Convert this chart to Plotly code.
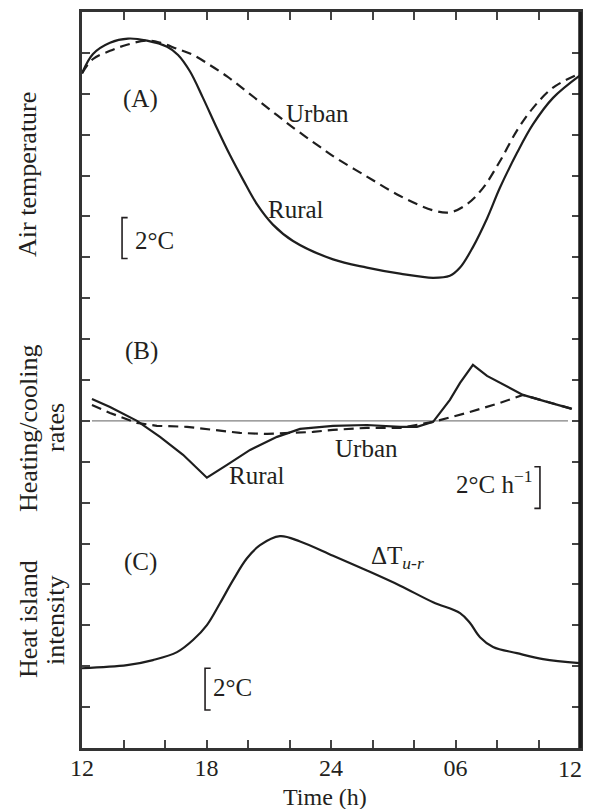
import plotly.graph_objects as go

# ---------------- data ----------------
# (A) air temperature, degC (schematic)
hours_a_rural = [12.0, 12.53, 13.35, 14.22, 15.13, 16.10, 16.63, 17.20, 17.83, 18.51, 19.13, 19.76,
                 20.43, 21.20, 22.17, 24.10, 25.73, 27.33, 28.92, 29.73, 30.22, 30.84, 31.52,
                 32.14, 32.96, 33.73, 34.70, 36.0]
temp_rural = [23.0, 23.95, 24.5, 24.7, 24.6, 24.3, 23.9, 23.1, 21.8, 20.3, 19.0, 17.8,
              16.6, 15.6, 14.8, 13.9, 13.5, 13.2, 13.0, 13.1, 13.5, 14.5, 15.9,
              17.4, 19.1, 20.5, 21.8, 22.9]

hours_a_urban = [12.0, 12.53, 13.35, 14.17, 15.13, 15.76, 16.58, 17.35, 18.17, 18.99, 19.76, 20.58,
                 21.40, 22.17, 23.47, 24.10, 25.73, 27.33, 28.92, 29.73, 30.55, 31.33, 32.14,
                 32.96, 33.73, 34.70, 36.0]
temp_urban = [23.0, 23.7, 24.1, 24.4, 24.6, 24.5, 24.2, 23.9, 23.4, 22.85, 22.25, 21.6,
              20.95, 20.35, 19.4, 18.95, 17.95, 17.0, 16.3, 16.2, 16.6, 17.4, 18.7,
              20.2, 21.3, 22.3, 23.0]

# (B) heating / cooling rates, degC per hour
hours_b_rural = [12.48, 13.35, 14.65, 15.76, 16.87, 18.02, 18.99, 20.10, 21.40, 22.51, 24.10, 25.73,
                 27.33, 28.14, 28.92, 29.73, 30.22, 30.84, 31.52, 32.14, 33.25, 34.41, 35.61]
rate_rural = [1.07, 0.68, 0.0, -0.78, -1.66, -2.78, -2.15, -1.42, -0.78, -0.39, -0.24, -0.20,
              -0.29, -0.29, -0.05, 1.03, 1.86, 2.74, 2.20, 1.86, 1.27, 0.93, 0.59]

hours_b_urban = [12.48, 13.35, 14.65, 15.61, 17.06, 18.31, 19.61, 20.92, 22.17, 23.13, 24.10, 25.73,
                 27.33, 28.92, 30.55, 32.14, 33.25, 34.41, 35.61]
rate_urban = [0.78, 0.39, -0.10, -0.24, -0.29, -0.44, -0.59, -0.64, -0.59, -0.54, -0.44, -0.34,
              -0.34, -0.05, 0.39, 0.88, 1.27, 0.93, 0.59]

# (C) heat island intensity, degC
hours_c = [12.0, 14.17, 15.42, 16.58, 17.35, 18.02, 18.65, 19.28, 19.95, 20.58, 21.54, 22.51,
           24.10, 25.73, 27.33, 28.92, 30.22, 30.70, 31.18, 31.81, 32.96, 34.22, 36.0]
delta_t = [-0.1, 0.05, 0.30, 0.69, 1.28, 2.01, 3.08, 4.21, 5.28, 5.92, 6.36, 6.10,
           5.40, 4.68, 3.94, 3.13, 2.60, 2.11, 1.42, 0.94, 0.64, 0.35, 0.15]

tick_hours = [12, 14, 16, 18, 20, 22, 24, 26, 28, 30, 32, 34, 36]
tick_text = ["12", " ", " ", "18", " ", " ", "24", " ", " ", "06", " ", " ", " "]
last_tick_label = "12"

# ---------------- figure ----------------
FONT = "Liberation Serif, Times New Roman, serif"
TXT = "#231f20"
LINE = "#1e1e1e"
DASH = "10px,6px"
FS = 25

fig = go.Figure()
fig.add_trace(go.Scatter(x=hours_a_rural, y=temp_rural, yaxis="y2", mode="lines",
                         line=dict(color=LINE, width=2.2, shape="spline", smoothing=1.0)))
fig.add_trace(go.Scatter(x=hours_a_urban, y=temp_urban, yaxis="y2", mode="lines",
                         line=dict(color=LINE, width=2.2, dash=DASH, shape="spline", smoothing=1.0)))
fig.add_trace(go.Scatter(x=hours_b_rural, y=rate_rural, yaxis="y3", mode="lines",
                         line=dict(color=LINE, width=2.2)))
fig.add_trace(go.Scatter(x=hours_b_urban, y=rate_urban, yaxis="y3", mode="lines",
                         line=dict(color=LINE, width=2.2, dash=DASH)))
fig.add_trace(go.Scatter(x=hours_c, y=delta_t, yaxis="y4", mode="lines",
                         line=dict(color=LINE, width=2.2, shape="spline", smoothing=1.0)))

shapes = [
    # zero line of panel B
    dict(type="line", xref="x", yref="y3", x0=12.48, x1=35.42, y0=0, y1=0,
         line=dict(color="#808080", width=1.3), layer="below"),
    # scale bars
    dict(type="path", xref="x", yref="y", path="M 14.2,12.97 L 13.93,12.97 L 13.93,11.97 L 14.2,11.97",
         line=dict(color=TXT, width=1.6)),
    dict(type="path", xref="x", yref="y", path="M 33.8,6.88 L 34.07,6.88 L 34.07,5.86 L 33.8,5.86",
         line=dict(color=TXT, width=1.6)),
    dict(type="path", xref="x", yref="y", path="M 18.2,1.95 L 17.93,1.95 L 17.93,0.93 L 18.2,0.93",
         line=dict(color=TXT, width=1.6)),
    # thicker right edge
    dict(type="line", xref="paper", yref="paper", x0=1, x1=1, y0=0, y1=1,
         line=dict(color="#1a1a1a", width=3.5)),
]

def ann(text, x, y, xanchor="center", xref="x", yref="y", angle=0, size=FS):
    return dict(text=text, x=x, y=y, xref=xref, yref=yref, xanchor=xanchor, yanchor="middle",
                showarrow=False, textangle=angle, font=dict(family=FONT, size=size, color=TXT))

annotations = [
    ann("(A)", 14.8, 15.88),
    ann("Urban", 23.37, 15.53),
    ann("Rural", 22.31, 13.17),
    ann("2°C", 14.45, 12.41, xanchor="left"),
    ann("(B)", 14.89, 9.72),
    ann("Rural", 20.43, 6.67),
    ann("Urban", 25.73, 7.33),
    ann("2°C h<sup>−1</sup>", 33.85, 6.5, xanchor="right"),
    ann("(C)", 14.8, 4.54),
    ann("ΔT<sub><i>u-r</i></sub>", 27.2, 4.67),
    ann("2°C", 18.2, 1.47, xanchor="left"),
    # axis titles (page pixel positions)
    ann("Air temperature", 28, 175, xref="pixel", yref="pixel", angle=-90, size=26),
    ann("Heating/cooling", 28, 428, xref="pixel", yref="pixel", angle=-90, size=26),
    ann("rates", 55, 428, xref="pixel", yref="pixel", angle=-90, size=26),
    ann("Heat island", 28, 619, xref="pixel", yref="pixel", angle=-90, size=26),
    ann("intensity", 55, 620, xref="pixel", yref="pixel", angle=-90, size=26),
    ann("Time (h)", 325, 797, xref="pixel", yref="pixel", size=24),
    ann(last_tick_label, 584, 769, xanchor="right", xref="pixel", yref="pixel", size=24),
]

# page has an 8px body margin: figure is placed at (8, 8)
OFF = 8
PAGE_W, PAGE_H = 592, 809
W, H = PAGE_W - OFF, PAGE_H - OFF
L, R, T = 82 - OFF, PAGE_W - 580, 12 - OFF
B = H - (748 - OFF)
pw, ph = W - L - R, H - T - B
for a in annotations:
    if a["xref"] == "pixel":
        px, py = a["x"] - OFF, a["y"] - OFF
        a["x"] = (px - L) / pw
        a["y"] = (H - B - py) / ph
        a["xref"] = "paper"
        a["yref"] = "paper"

axis_common = dict(showline=True, linecolor="#333333", linewidth=2.5, mirror="ticks",
                   ticks="inside", ticklen=8, tickwidth=1.5, tickcolor="#444444",
                   showgrid=False, zeroline=False)

fig.update_layout(
    width=W, height=H,
    margin=dict(l=L, r=R, t=T, b=B),
    paper_bgcolor="white", plot_bgcolor="white",
    showlegend=False,
    font=dict(family=FONT, size=FS, color=TXT),
    xaxis=dict(range=[12, 36], tickvals=tick_hours, ticktext=tick_text,
               ticklabeloverflow="allow", automargin=False, ticklabelstandoff=-4,
               tickfont=dict(family=FONT, size=24, color=TXT), **axis_common),
    yaxis=dict(range=[0, 18], tickvals=list(range(0, 19)), showticklabels=False, **axis_common),
    yaxis2=dict(range=[-10, 26], overlaying="y", visible=False),
    yaxis3=dict(range=[-16, 20], overlaying="y", visible=False),
    yaxis4=dict(range=[-4, 32], overlaying="y", visible=False),
    shapes=shapes,
    annotations=annotations,
)

fig.write_html("out.html")
